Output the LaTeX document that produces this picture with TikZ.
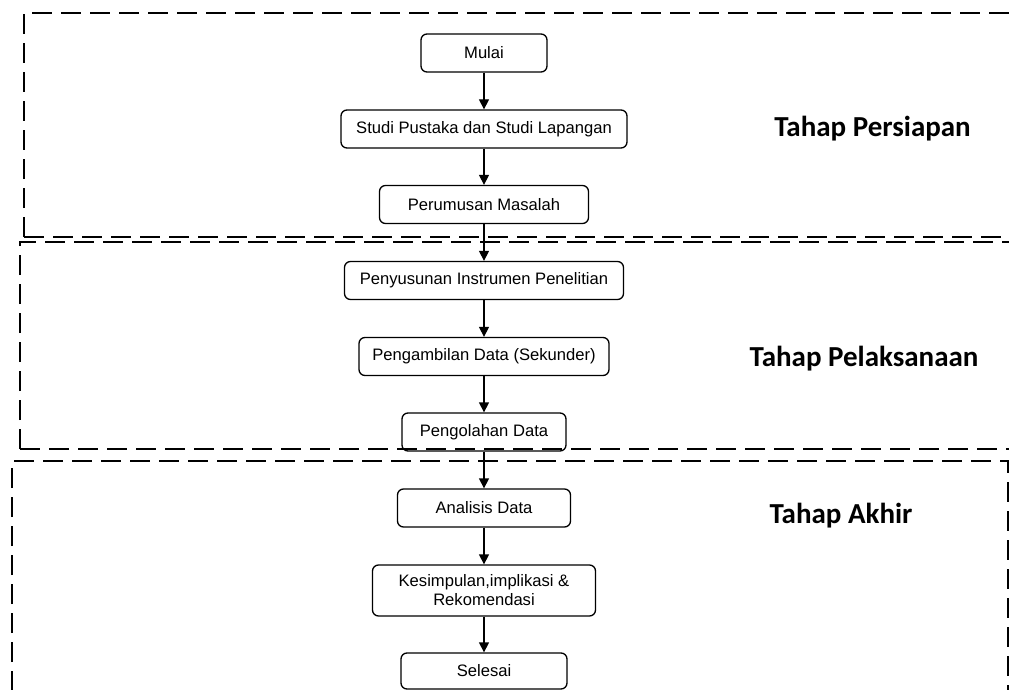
\documentclass[tikz,border=0pt]{standalone}
\usepackage{fontspec}
\setmainfont{Liberation Sans}
\newfontfamily\hfont{Carlito}
\usetikzlibrary{arrows.meta}
\tikzset{
  stepbox/.style={draw=black, line width=1.3pt, rounded corners=6pt, rectangle,
    inner sep=0pt, minimum height=38pt, align=center,
    font=\fontsize{16.6}{19}\selectfont},
  frame/.style={draw=black, line width=2.9pt, dash pattern=on 20pt off 9pt},
  arr/.style={draw=black, line width=1.3pt, -{Triangle[width=10pt,length=10pt]}},
  phase/.style={anchor=base, inner sep=0pt, font=\hfont\bfseries\fontsize{29}{34}\selectfont}
}
\begin{document}
\begin{tikzpicture}[x=1pt,y=-1pt]
\useasboundingbox (0,0) rectangle (1009,690);
\clip (0,0) rectangle (1009,690);
\fill[white] (0,0) rectangle (1009,690);

% phase frames
\draw[frame] (24,237) -- (24,13) -- (1040,13);
\draw[frame] (24,237) -- (1040,237);
\draw[frame] (20,449) -- (20,242) -- (1040,242);
\draw[frame] (20,449) -- (1040,449);
\draw[frame] (12,720) -- (12,461) -- (1008,461) -- (1008,720);

% steps
\node[stepbox, minimum width=126pt] (mulai) at (484,53) {Mulai};
\node[stepbox, minimum width=286pt] (studi) at (484,129) {Studi Pustaka dan Studi Lapangan};
\node[stepbox, minimum width=209pt] (rumus) at (484,204.5) {Perumusan Masalah};
\node[stepbox, minimum width=279pt] (susun) at (484,280.5) {Penyusunan Instrumen Penelitian};
\node[stepbox, minimum width=250pt] (ambil) at (484,356.5) {Pengambilan Data (Sekunder)};
\node[stepbox, minimum width=164pt] (olah) at (484,432) {Pengolahan Data};
\node[stepbox, minimum width=173pt] (analisis) at (484,508) {Analisis Data};
\node[stepbox, minimum width=223pt, minimum height=51pt] (simpul) at (484,590.5) {Kesimpulan,implikasi \&\\Rekomendasi};
\node[stepbox, minimum width=166pt, minimum height=36pt] (selesai) at (484,671) {Selesai};

% connectors
\draw[arr] (mulai) -- (studi);
\draw[arr] (studi) -- (rumus);
\draw[arr] (rumus) -- (susun);
\draw[arr] (susun) -- (ambil);
\draw[arr] (ambil) -- (olah);
\draw[arr] (olah) -- (analisis);
\draw[arr] (analisis) -- (simpul);
\draw[arr] (simpul) -- (selesai);

% phase labels
\node[phase] (p1) at (872.5,137) {Tahap Persiapan};
\node[phase] (p2) at (864,366) {Tahap Pelaksanaan};
\node[phase] (p3) at (841,523) {Tahap Akhir};
\end{tikzpicture}
\end{document}
